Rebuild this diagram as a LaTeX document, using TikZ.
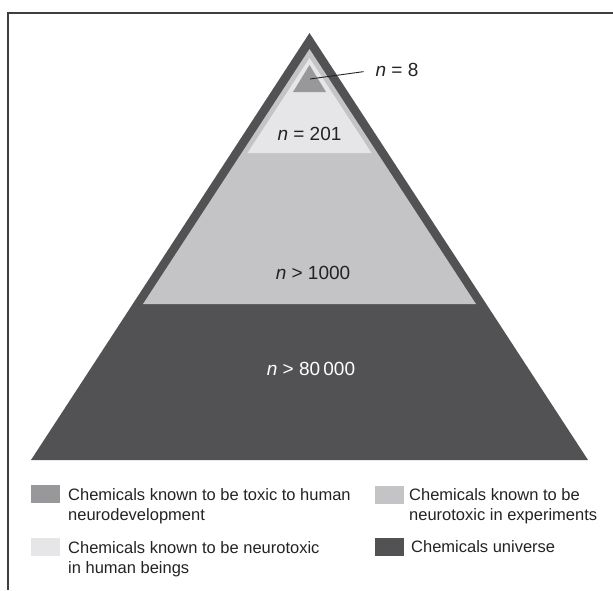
\documentclass[tikz,border=0pt]{standalone}
\usepackage{fontspec}
\setmainfont{Liberation Sans}
\usetikzlibrary{calc,positioning}
\definecolor{mydark}{RGB}{82,82,84}
\definecolor{mymid}{RGB}{152,152,154}
\definecolor{mylight}{RGB}{196,196,198}
\definecolor{mypale}{RGB}{230,230,232}
\definecolor{myframe}{RGB}{62,62,62}
\definecolor{mytext}{RGB}{35,35,35}
\tikzstyle{swatch}=[draw=none,minimum width=29pt,minimum height=18pt,inner sep=0pt]
\tikzstyle{legend}=[anchor=base west,align=left,inner sep=0pt,text=mytext,font=\fontsize{16.5}{20}\selectfont]
\tikzstyle{count}=[inner sep=0pt,text=mytext,font=\fontsize{19}{22}\selectfont]

\begin{document}
\begin{tikzpicture}[x=1pt,y=-1pt]
\useasboundingbox (0,0) rectangle (613,590);
\draw[myframe,line width=1.8pt] (613,13) -- (8,13) -- (8,590);
\coordinate (top) at (309.5,33);
\coordinate (bl) at (31,460);
\coordinate (br) at (588,460);
\fill[mydark] (top) -- (bl) -- (br) -- cycle;
\fill[mylight] (309.5,49) -- (143,304) -- (476,304) -- cycle;
\fill[mypale] (309.5,58) -- (247.5,153) -- (371.5,153) -- cycle;
\fill[mymid] (309.5,65) -- (293,92) -- (326,92) -- cycle;
\coordinate (tip) at (310,79);
\draw (397,70) node [count] (n8) {\textit{n} = 8};
\draw[mytext,line width=0.9pt,shorten >=12pt] (tip) -- (n8.west);
\draw (309.5,134) node [count] (n201) {\textit{n} = 201};
\draw (313,273) node [count] (n1000) {\textit{n} > 1000};
\draw (311,369) node [count,text=white] (n80k) {\textit{n} > 80\,000};
\draw (45.5,494) node [swatch,fill=mymid] (s1) {};
\draw (45.5,547) node [swatch,fill=mypale] (s2) {};
\draw (389,495) node [swatch,fill=mylight] (s3) {};
\draw (389,547) node [swatch,fill=mydark] (s4) {};
\draw (68,520.5) node [legend] (t1) {Chemicals known to be toxic to human\\neurodevelopment};
\draw (68,573) node [legend] (t2) {Chemicals known to be neurotoxic\\in human beings};
\draw (409,520.5) node [legend] (t3) {Chemicals known to be\\neurotoxic in experiments};
\draw (411,552.5) node [legend] (t4) {Chemicals universe};
\end{tikzpicture}
\end{document}
